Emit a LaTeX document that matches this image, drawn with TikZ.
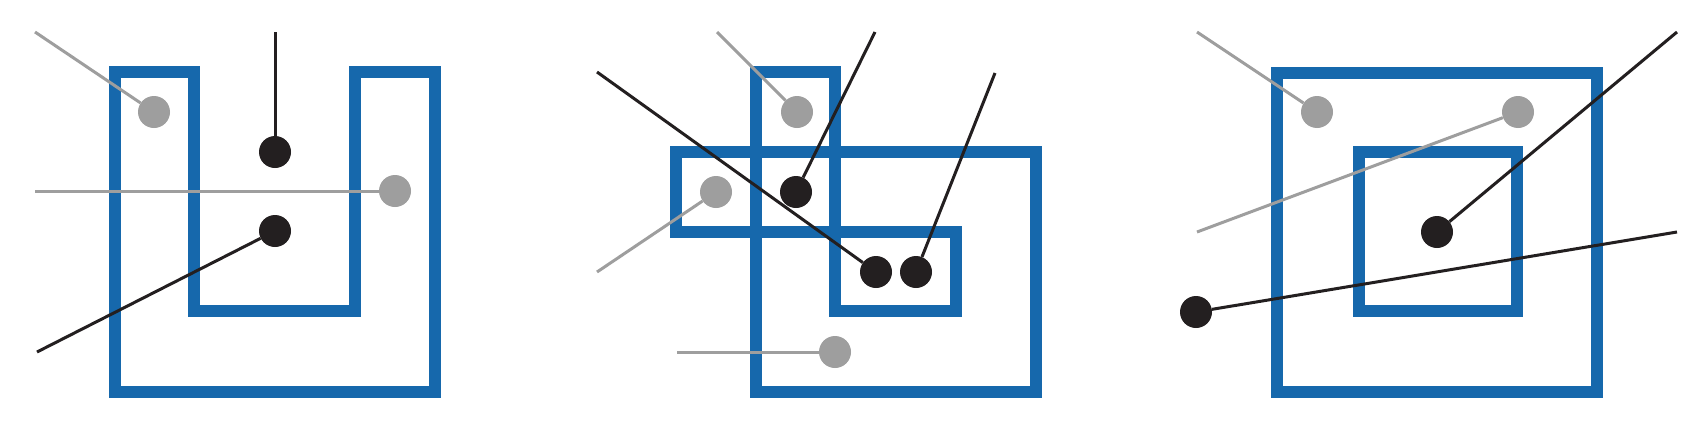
\documentclass[tikz,border=0pt]{standalone}
\usepackage{tikz}
\definecolor{wallblue}{RGB}{22,104,172}
\definecolor{raygray}{RGB}{158,158,158}
\definecolor{dotblack}{RGB}{35,31,32}

\begin{document}
\begin{tikzpicture}[x=1pt, y=-1pt,
    wall/.style={draw=wallblue, line width=11.5pt},
    gdot/.style={circle, fill=raygray, inner sep=0pt, minimum size=32pt},
    bdot/.style={circle, fill=dotblack, inner sep=0pt, minimum size=32pt},
    gray ray/.style={draw=raygray, line width=3pt},
    black ray/.style={draw=dotblack, line width=3pt}]
    \useasboundingbox (0,0) rectangle (1698,426);
    % left: U shape
    \draw[wall] (115,72) -- (194,72) -- (194,311) -- (355,311) -- (355,72)
      -- (435,72) -- (435,392) -- (115,392) -- cycle;
    \node[gdot] (g1) at (154,112) {};
    \node[bdot] (b1) at (275,152) {};
    \node[gdot] (g2) at (395,191) {};
    \node[bdot] (b2) at (275,231) {};
    \coordinate (e1) at (35,32); \coordinate (e2) at (275,32);
    \coordinate (e3) at (35,191); \coordinate (e4) at (37,352);
    \draw[gray ray] (g1) -- (e1); \draw[black ray] (b1) -- (e2);
    \draw[gray ray] (g2) -- (e3); \draw[black ray] (b2) -- (e4);
    % middle: self-crossing polygon
    \draw[wall] (756,72) -- (835,72) -- (835,311) -- (956,311) -- (956,232)
      -- (676,232) -- (676,152) -- (1036,152) -- (1036,392) -- (756,392) -- cycle;
    \node[gdot] (g3) at (797,112) {};
    \node[bdot] (b3) at (796,192) {};
    \node[gdot] (g4) at (716,192) {};
    \node[bdot] (b4) at (876,272) {};
    \node[bdot] (b5) at (916,272) {};
    \node[gdot] (g5) at (835,352) {};
    \coordinate (e5) at (717,32); \coordinate (e6) at (875,32);
    \coordinate (e7) at (597,272); \coordinate (e8) at (597,72);
    \coordinate (e9) at (995,73); \coordinate (e10) at (677,352);
    \draw[gray ray] (g3) -- (e5); \draw[black ray] (b3) -- (e6);
    \draw[gray ray] (g4) -- (e7); \draw[black ray] (b4) -- (e8);
    \draw[black ray] (b5) -- (e9); \draw[gray ray] (g5) -- (e10);
    % right: square with a hole
    \draw[wall] (1277,73) rectangle (1597,392);
    \draw[wall] (1359,152) rectangle (1517,311);
    \node[gdot] (g6) at (1317,112) {};
    \node[gdot] (g7) at (1518,112) {};
    \node[bdot] (b6) at (1437,232) {};
    \node[bdot] (b7) at (1196,312) {};
    \coordinate (e11) at (1197,32); \coordinate (e12) at (1197,232);
    \coordinate (e13) at (1677,32); \coordinate (e14) at (1677,232);
    \draw[gray ray] (g6) -- (e11); \draw[gray ray] (g7) -- (e12);
    \draw[black ray] (b6) -- (e13); \draw[black ray] (b7) -- (e14);
\end{tikzpicture}
\end{document}
